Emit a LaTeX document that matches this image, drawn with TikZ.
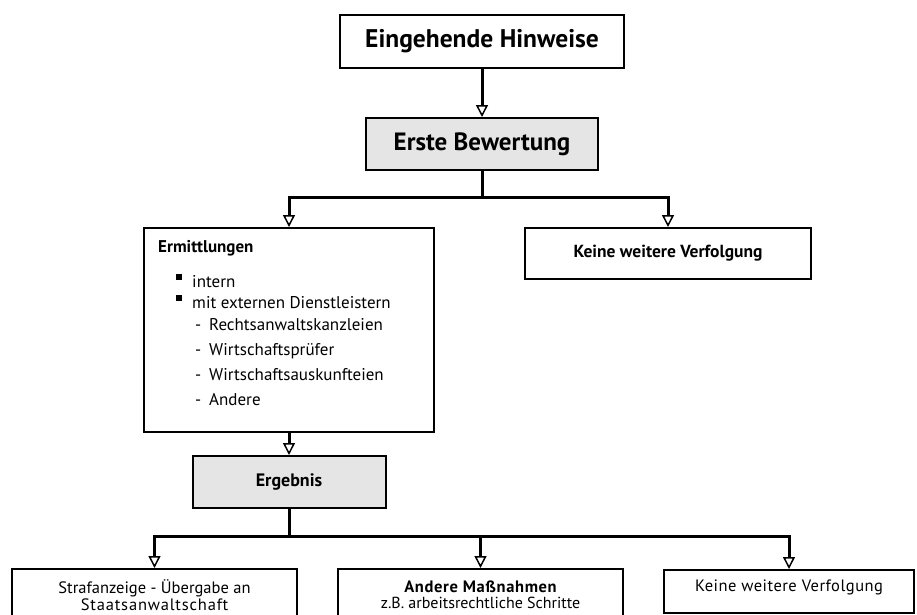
\documentclass[tikz,border=0pt]{standalone}
\usepackage{fontspec}
\setmainfont{PT Sans}
\usetikzlibrary{arrows.meta}
\begin{document}
\begin{tikzpicture}[x=1pt,y=-1pt,
  box/.style={draw, line width=2pt, inner sep=0pt},
  shaded/.style={box, fill=black!10},
  conn/.style={line width=3pt},
  arr/.style={line width=3pt, -{Triangle[open,length=12pt,width=12pt,line width=1.5pt]}},
  bul/.style={fill, inner sep=0pt, minimum size=6pt},
  txt/.style={anchor=base west, inner sep=0pt},
  ctxt/.style={anchor=base, inner sep=0pt}]
\useasboundingbox (0,0) rectangle (917,614);
\clip (0,0) rectangle (917,614);
\fill[white] (0,0) rectangle (917,614);

% top boxes
\node[box, minimum width=284pt, minimum height=53pt] (hin) at (482,41.5)
  {\fontsize{25.5}{30}\selectfont\bfseries Eingehende Hinweise};
\node[shaded, minimum width=232pt, minimum height=52pt] (bew) at (482,144)
  {\fontsize{25}{30}\selectfont\bfseries Erste Bewertung};
\draw[arr] (hin.south) -- (bew.north);

% second level
\node[box, minimum width=290pt, minimum height=204pt] (erm) at (289,330) {};
\node[box, minimum width=286pt, minimum height=51pt] (kein1) at (668,253.5)
  {\fontsize{17.5}{21}\selectfont\bfseries Keine weitere Verfolgung};
\coordinate (j1) at (482,197);
\draw[conn] (bew.south) -- (j1);
\draw[arr] (j1) -| (erm.north);
\draw[arr] (j1) -| (kein1.north);

% Ermittlungen content
\node[txt] (ermh) at (158,252) {\fontsize{17}{20}\selectfont\bfseries Ermittlungen};
\node[bul] (b1) at (179,277) {};
\node[bul] (b2) at (179,298) {};
\node[txt] (i1) at (192,287) {\fontsize{17}{20}\selectfont intern};
\node[txt] (i2) at (192,308) {\fontsize{17}{20}\selectfont mit externen Dienstleistern};
\node[txt] (d1) at (195,330) {\fontsize{17}{20}\selectfont -};
\node[txt] (s1) at (209,330) {\fontsize{17}{20}\selectfont Rechtsanwaltskanzleien};
\node[txt] (d2) at (195,355) {\fontsize{17}{20}\selectfont -};
\node[txt] (s2) at (209,355) {\fontsize{17}{20}\selectfont Wirtschaftsprüfer};
\node[txt] (d3) at (195,380) {\fontsize{17}{20}\selectfont -};
\node[txt] (s3) at (209,380) {\fontsize{17}{20}\selectfont Wirtschaftsauskunfteien};
\node[txt] (d4) at (195,405) {\fontsize{17}{20}\selectfont -};
\node[txt] (s4) at (209,405) {\fontsize{17}{20}\selectfont Andere};

% Ergebnis
\node[shaded, minimum width=193pt, minimum height=52pt] (erg) at (289,482)
  {\fontsize{18}{22}\selectfont\bfseries Ergebnis};
\draw[arr] (erm.south) -- (erg.north);

% bottom level
\node[box, minimum width=285pt, minimum height=70pt, anchor=north] (straf) at (154.5,568) {};
\node[box, minimum width=285pt, minimum height=70pt, anchor=north] (mass) at (480.5,568) {};
\node[box, minimum width=250pt, minimum height=43pt, anchor=north] (kein2) at (789,569) {};
\coordinate (j2) at (289,536);
\draw[conn] (erg.south) -- (j2);
\draw[arr] (j2) -| (straf.north);
\draw[arr] (j2) -| (mass.north);
\draw[arr] (j2) -| (kein2.north);

\node[ctxt] (straf1) at (154.5,593) {\fontsize{16.5}{19}\selectfont Strafanzeige - Übergabe an};
\node[ctxt] (straf2) at (154.5,610) {\fontsize{16.5}{19}\selectfont\addfontfeature{LetterSpace=5}Staatsanwaltschaft};
\node[ctxt] (mass1) at (480.5,592) {\fontsize{16.5}{19}\selectfont\bfseries\addfontfeature{LetterSpace=4}Andere Maßnahmen};
\node[ctxt] (mass2) at (480.5,608) {\fontsize{16}{19}\selectfont z.B. arbeitsrechtliche Schritte};
\node[ctxt] (kein2t) at (789,591) {\fontsize{16.5}{19}\selectfont\addfontfeature{LetterSpace=3}Keine weitere Verfolgung};
\end{tikzpicture}
\end{document}
